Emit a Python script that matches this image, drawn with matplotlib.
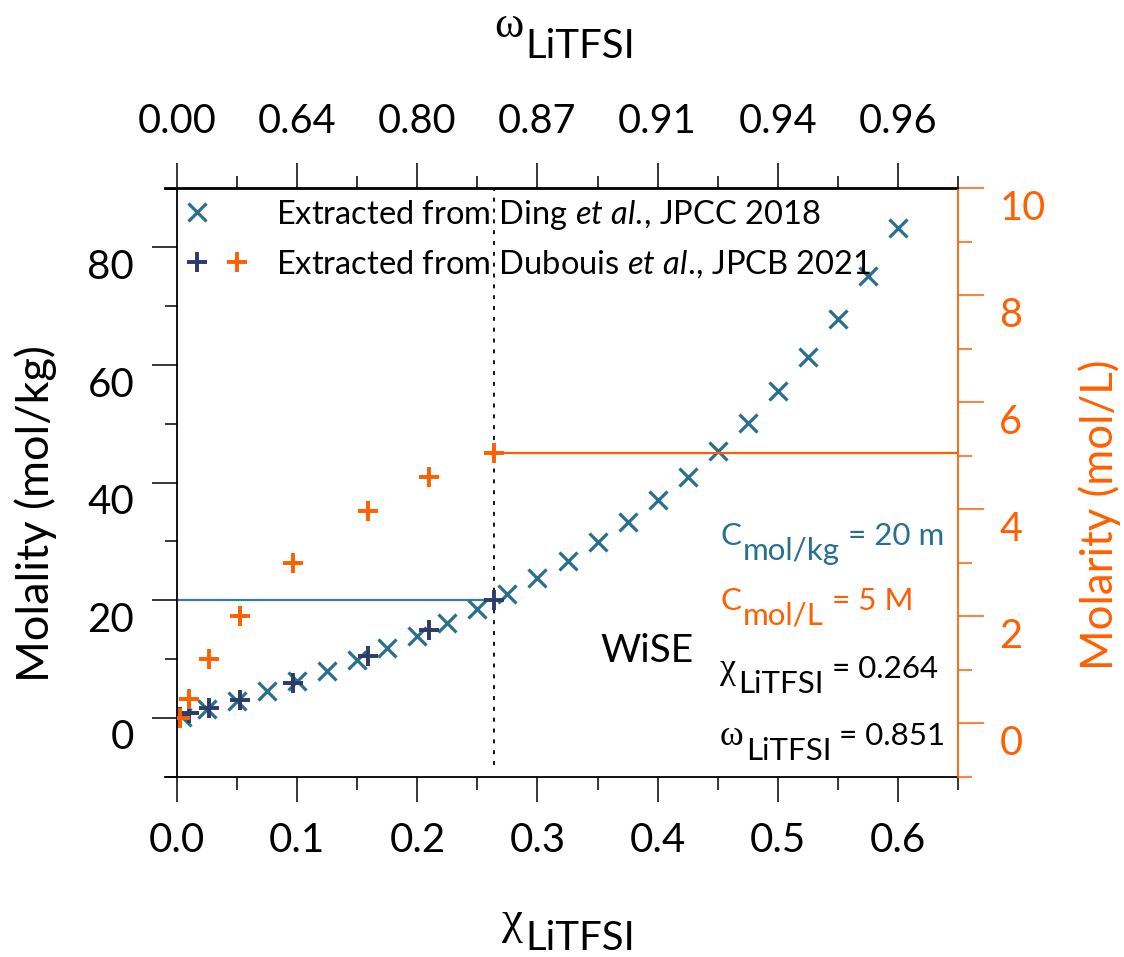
import matplotlib
matplotlib.use("Agg")
import matplotlib.pyplot as plt
from matplotlib.legend_handler import HandlerTuple
from matplotlib.lines import Line2D
from matplotlib.ticker import MultipleLocator, FormatStrFormatter
from matplotlib.transforms import IdentityTransform, ScaledTranslation

plt.rcParams['font.family'] = ['Lato', 'DejaVu Sans']
plt.rcParams['mathtext.fontset'] = 'custom'
plt.rcParams['mathtext.rm'] = 'Lato'
plt.rcParams['mathtext.it'] = 'Lato:italic'

TEAL = '#28708e'
NAVY = '#2d3a6c'
ORANGE = '#ff5f00'
GREEK = ['Liberation Serif', 'DejaVu Serif']

# Ding et al. 2018 (mole fraction vs molality)
chi_ding = [0.004, 0.025, 0.05, 0.075, 0.1, 0.125, 0.15, 0.175, 0.2, 0.225, 0.25,
            0.275, 0.3, 0.325, 0.35, 0.375, 0.4, 0.425, 0.45, 0.475, 0.5, 0.525,
            0.55, 0.575, 0.6]
molality_ding = [0.2, 1.4, 2.9, 4.5, 6.2, 7.9, 9.8, 11.8, 13.9, 16.1, 18.5,
                 21.0, 23.8, 26.7, 29.9, 33.3, 37.0, 41.0, 45.4, 50.2, 55.5, 61.4,
                 67.8, 75.1, 83.3]

# Dubouis et al. 2021
chi_dub = [0.002, 0.010, 0.026, 0.052, 0.096, 0.159, 0.210, 0.264]
molality_dub = [0.1, 0.75, 1.6, 3.0, 5.9, 10.5, 14.9, 20.0]
molarity_dub = [0.1, 0.45, 1.2, 2.0, 3.0, 3.97, 4.6, 5.05]

x_major = [0.0, 0.1, 0.2, 0.3, 0.4, 0.5, 0.6]
omega_labels = ['0.00', '0.64', '0.80', '0.87', '0.91', '0.94', '0.96']
y_left_major = [0, 20, 40, 60, 80]
y_right_major = [0, 2, 4, 6, 8, 10]

chi_wise = 0.264
molality_wise = 20

W, H = 1124, 957
fig = plt.figure(figsize=(W / 100, H / 100), dpi=100)
ax = fig.add_axes([177.3 / W, 1 - 776.5 / H, 780.4 / W, 588 / H])
ax2 = ax.twinx()

# reference lines
ax.vlines(chi_wise, -8, 90, colors='k', linestyles=(0, (2.2, 3.8)), lw=1.3)
ax.hlines(molality_wise, 0, chi_wise, colors='#3d7a96', lw=1.6)
ax2.hlines(molarity_dub[-1], chi_wise, 0.65, colors=ORANGE, lw=1.6)

h_ding, = ax.plot(chi_ding, molality_ding, 'x', ls='none', color=TEAL, ms=13, mew=2.3)
h_navy, = ax.plot(chi_dub, molality_dub, '+', ls='none', color=NAVY, ms=14, mew=2.8)
h_orange, = ax2.plot(chi_dub, molarity_dub, '+', ls='none', color=ORANGE, ms=14, mew=2.8)

ax.set_xlim(0, 0.65)
ax.set_ylim(-10, 90)
ax2.set_ylim(-1, 10)

ax.set_xticks(x_major)
ax.xaxis.set_major_formatter(FormatStrFormatter('%.1f'))
ax.xaxis.set_minor_locator(MultipleLocator(0.05))
ax.set_yticks(y_left_major)
ax.yaxis.set_minor_locator(MultipleLocator(10))
ax2.set_yticks(y_right_major)
ax2.yaxis.set_minor_locator(MultipleLocator(1))

secax = ax.secondary_xaxis('top')
secax.set_xticks(x_major, labels=omega_labels)
secax.xaxis.set_minor_locator(MultipleLocator(0.05))
secax.patch.set_visible(False)

# spines: black frame, orange right axis; horizontal lines run a bit past the left axis
for s in list(ax.spines.values()) + list(ax2.spines.values()) + list(secax.spines.values()):
    s.set_visible(False)
    s.set_linewidth(1.3)
ax.spines['left'].set_visible(True)
for a in (ax, ax2):
    a.spines['top'].set_visible(True)
    a.spines['top'].set_bounds(-0.0103, 0.65)
ax.spines['bottom'].set_visible(True)
ax.spines['bottom'].set_bounds(-0.0103, 0.65)
ax2.spines['right'].set_visible(True)
ax2.spines['right'].set_color(ORANGE)

ax.tick_params(axis='x', which='major', direction='out', length=18, width=1.1,
               labelsize=29, pad=15)
ax.tick_params(axis='x', which='minor', direction='out', length=9, width=1.1)
ax.tick_params(axis='y', which='major', direction='out', length=18, width=1.1,
               labelsize=29, pad=13)
ax.tick_params(axis='y', which='minor', direction='out', length=9, width=1.1)
secax.tick_params(axis='x', which='major', direction='out', length=18, width=1.1,
                  labelsize=28.5, pad=17)
secax.tick_params(axis='x', which='minor', direction='out', length=9, width=1.1)
ax2.tick_params(axis='y', which='major', direction='out', length=19, width=1.1,
                labelsize=28.5, pad=11, color=ORANGE, labelcolor=ORANGE)
ax2.tick_params(axis='y', which='minor', direction='out', length=10, width=1.1,
                color=ORANGE)

# y tick labels sit a little below their ticks in the original
shift = ScaledTranslation(0, -12 / 72, fig.dpi_scale_trans)
for lab in ax.get_yticklabels() + ax2.get_yticklabels():
    lab.set_transform(lab.get_transform() + shift)

blank = Line2D([], [], ls='none')
ax.legend([(h_ding, blank), (h_navy, h_orange)],
          ['Extracted from Ding $\\mathit{et\\ al.}\\!\\mathrm{,}$ JPCC 2018',
           'Extracted from Dubouis $\\mathit{et\\ al.}\\!\\mathrm{,}$ JPCB 2021'],
          handler_map={tuple: HandlerTuple(ndivide=None, pad=0)},
          loc='upper left', bbox_to_anchor=(0, 0.984), frameon=False,
          fontsize=23.5, borderpad=0, borderaxespad=0, handlelength=2.45,
          handletextpad=0.58, labelspacing=0.5)

renderer = fig.canvas.get_renderer()
px = IdentityTransform()


def sub_text(x, y, base, sub, rest='', color='k', size=22.5, base_size=None,
             base_family=None, dy=15, gap=2):
    # x, y: left edge and baseline in image pixels (origin top-left)
    Y = H - y
    t = fig.text(x, Y, base, transform=px, color=color, va='baseline',
                 fontsize=base_size or size, family=base_family or ['Lato'])
    x += t.get_window_extent(renderer).width + gap
    t = fig.text(x, Y - dy, sub, transform=px, color=color, va='baseline', fontsize=size)
    x += t.get_window_extent(renderer).width
    if rest:
        fig.text(x, Y, rest, transform=px, color=color, va='baseline', fontsize=size)


sub_text(720, 545, 'C', 'mol/kg', ' = 20 m', color=TEAL)
sub_text(720, 610, 'C', 'mol/L', ' = 5 M', color=ORANGE)
fig.text(600, H - 662, 'WiSE', transform=px, fontsize=28, va='baseline')
sub_text(720, 678, 'χ', 'LiTFSI', ' = 0.264', base_size=26, base_family=GREEK)
sub_text(720, 745, 'ω', 'LiTFSI', ' = 0.851', base_size=26, base_family=GREEK)

# axis titles
sub_text(494, 37, 'ω', 'LiTFSI', size=29, base_size=32, base_family=GREEK, dy=21)
sub_text(502, 933, 'χ', 'LiTFSI', size=29, base_size=34, base_family=GREEK, dy=17)
fig.text(36, H - 514, 'Molality (mol/kg)', transform=px, rotation=90,
         ha='center', va='center', fontsize=32.5)
fig.text(1100, H - 515, 'Molarity (mol/L)', transform=px, rotation=90,
         ha='center', va='center', fontsize=31.5, color=ORANGE)

fig.savefig('out.png', dpi=100)
